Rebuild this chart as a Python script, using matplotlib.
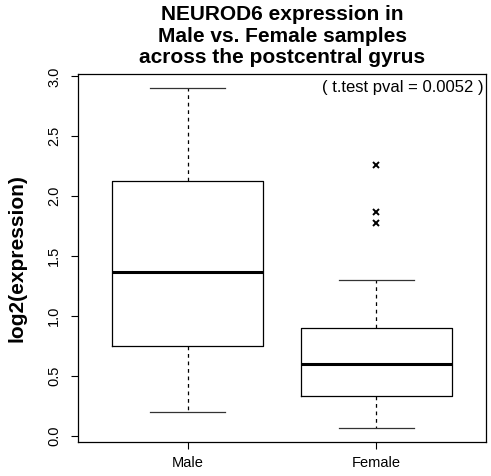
import matplotlib

matplotlib.use("Agg")

import matplotlib.pyplot as plt

plt.rcParams["font.family"] = ["Liberation Sans", "DejaVu Sans"]

groups = ["Male", "Female"]
whisker_low = [0.20, 0.065]
q1 = [0.755, 0.33]
medians = [1.37, 0.60]
q3 = [2.13, 0.905]
whisker_high = [2.90, 1.305]
outliers = [[], [2.26, 1.87, 1.78]]
pval_text = "( t.test pval = 0.0052 )"

stats = []
for i, name in enumerate(groups):
    stats.append({
        "label": name,
        "whislo": whisker_low[i],
        "q1": q1[i],
        "med": medians[i],
        "q3": q3[i],
        "whishi": whisker_high[i],
        "fliers": outliers[i],
    })

fig = plt.figure(figsize=(4.91, 4.76), dpi=100)
ax = fig.add_axes([78 / 491, 1 - 442 / 476, 408 / 491, 368 / 476])

ax.bxp(
    stats,
    positions=[1, 2],
    widths=0.8,
    boxprops=dict(color="black", lw=0.9),
    medianprops=dict(color="black", lw=2.2),
    whiskerprops=dict(color="black", lw=0.9, ls=(0, (3, 3))),
    capprops=dict(color="#333333", lw=0.9),
    capwidths=0.4,
    flierprops=dict(marker="x", markersize=4, markeredgewidth=1.4, markeredgecolor="black"),
)

ax.set_xlim(0.42, 2.58)
ax.set_ylim(-0.05, 3.02)
ax.set_yticks([0.0, 0.5, 1.0, 1.5, 2.0, 2.5, 3.0])
ax.set_yticklabels(["0.0", "0.5", "1.0", "1.5", "2.0", "2.5", "3.0"], rotation=90, va="center")
ax.tick_params(axis="both", direction="out", length=5, width=0.8, labelsize=10.5)
ax.tick_params(axis="y", pad=7)
ax.tick_params(axis="x", pad=5)
for sp in ax.spines.values():
    sp.set_linewidth(0.9)

fig.text(17 / 491, 1 - 258 / 476, "log2(expression)", rotation=90,
         ha="center", va="center", fontsize=15, fontweight="bold")

ax.text(0.995, 0.985, pval_text, transform=ax.transAxes, ha="right", va="top", fontsize=12)

fig.text(282 / 491, 1 - 36 / 476,
         "NEUROD6 expression in\nMale vs. Female samples\nacross the postcentral gyrus",
         ha="center", va="center", fontsize=15, fontweight="bold", linespacing=1.15)

fig.savefig("out.png", dpi=100)
